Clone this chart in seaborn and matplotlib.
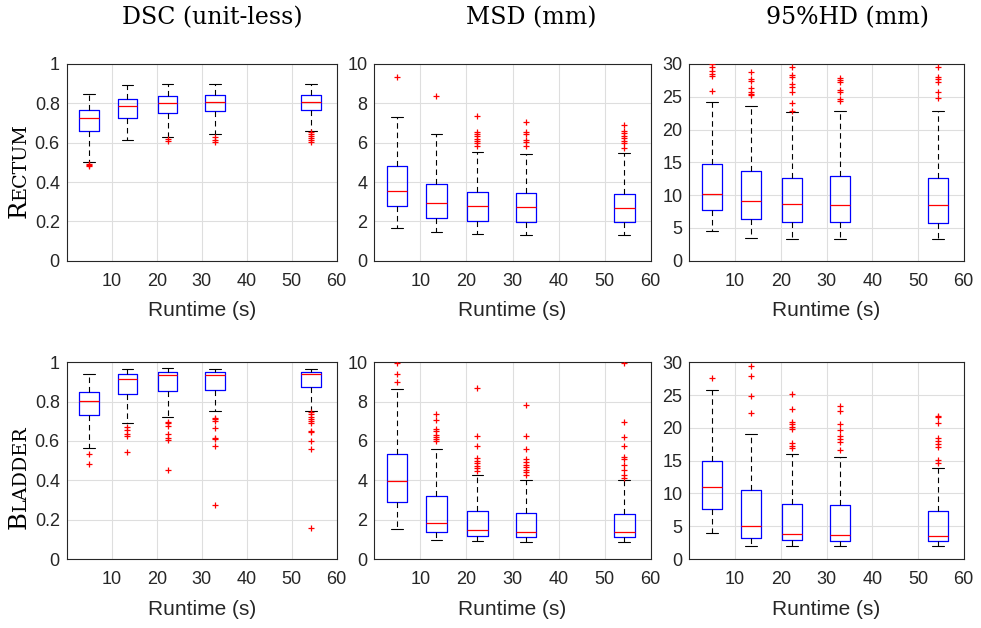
import numpy as np
import pandas as pd
import matplotlib
matplotlib.use("Agg")
import matplotlib.pyplot as plt
from matplotlib.ticker import FuncFormatter
import seaborn as sns

# mean runtime (s) of each configuration
runtime = [5, 13.5, 22.4, 33, 54.3]

# box summaries per runtime: lower whisker, q1, median, q3, upper whisker
dsc_rectum = [[0.503, 0.661, 0.724, 0.764, 0.846],
              [0.612, 0.725, 0.785, 0.820, 0.895],
              [0.631, 0.753, 0.800, 0.839, 0.900],
              [0.644, 0.761, 0.807, 0.844, 0.900],
              [0.661, 0.764, 0.808, 0.841, 0.900]]
dsc_rectum_out = [[0.492, 0.486, 0.481], [], [0.617, 0.610],
                  [0.630, 0.615, 0.605],
                  [0.655, 0.645, 0.635, 0.625, 0.615, 0.605]]

msd_rectum = [[1.64, 2.78, 3.56, 4.81, 7.32],
              [1.47, 2.15, 2.92, 3.90, 6.46],
              [1.34, 2.02, 2.78, 3.51, 5.53],
              [1.31, 1.97, 2.75, 3.46, 5.41],
              [1.29, 1.97, 2.68, 3.39, 5.47]]
msd_rectum_out = [[9.36], [8.39],
                  [7.36, 6.56, 6.44, 6.34, 6.20, 6.10, 5.97, 5.81],
                  [7.05, 6.53, 6.44, 6.14, 6.05, 5.83],
                  [6.88, 6.59, 6.47, 6.34, 6.22, 6.10, 5.97, 5.73]]

hd_rectum = [[4.47, 7.78, 10.17, 14.80, 24.25],
             [3.50, 6.30, 9.15, 13.70, 23.60],
             [3.25, 5.85, 8.60, 12.66, 22.70],
             [3.25, 5.90, 8.50, 12.90, 22.90],
             [3.25, 5.75, 8.54, 12.66, 22.80]]
hd_rectum_out = [[30.0, 29.5, 29.0, 28.5, 28.1, 25.9],
                 [28.8, 27.7, 27.4, 26.4, 25.8, 25.5, 25.2],
                 [29.5, 28.3, 28.0, 26.95, 26.5, 25.8, 24.0, 22.85],
                 [27.8, 27.6, 27.25, 26.0, 25.8, 24.6, 24.4],
                 [29.5, 27.97, 27.66, 27.3, 25.8, 24.76]]

dsc_bladder = [[0.566, 0.734, 0.802, 0.847, 0.941],
               [0.693, 0.837, 0.914, 0.942, 0.968],
               [0.720, 0.856, 0.936, 0.951, 0.969],
               [0.754, 0.859, 0.937, 0.951, 0.968],
               [0.754, 0.873, 0.939, 0.951, 0.968]]
dsc_bladder_out = [[0.536, 0.481],
                   [0.669, 0.656, 0.637, 0.625, 0.544],
                   [0.698, 0.692, 0.678, 0.636, 0.615, 0.607, 0.451],
                   [0.719, 0.710, 0.700, 0.666, 0.615, 0.608, 0.576, 0.273],
                   [0.745, 0.735, 0.720, 0.710, 0.700, 0.690, 0.651,
                    0.646, 0.598, 0.558, 0.158]]

msd_bladder = [[1.54, 2.92, 3.97, 5.32, 8.64],
               [0.95, 1.36, 1.81, 3.20, 5.59],
               [0.90, 1.19, 1.46, 2.46, 4.27],
               [0.85, 1.14, 1.39, 2.32, 4.00],
               [0.85, 1.12, 1.39, 2.29, 4.00]]
msd_bladder_out = [[9.95, 9.41, 8.98],
                   [7.37, 7.05, 6.63, 6.51, 6.31, 6.19, 6.08, 6.02],
                   [8.71, 6.24, 5.75, 5.12, 4.98, 4.86, 4.73, 4.64, 4.49],
                   [7.85, 6.24, 5.58, 5.07, 4.93, 4.80, 4.68, 4.54, 4.41, 4.27],
                   [9.95, 6.95, 6.22, 5.76, 5.17, 5.07, 4.76, 4.51, 4.29, 4.14]]

hd_bladder = [[4.02, 7.58, 10.98, 15.00, 25.70],
              [1.98, 3.25, 4.98, 10.50, 19.10],
              [1.98, 2.85, 3.86, 8.44, 15.97],
              [1.98, 2.75, 3.71, 8.29, 15.60],
              [1.98, 2.69, 3.51, 7.37, 13.93]]
hd_bladder_out = [[27.6],
                  [29.4, 27.9, 24.8, 22.2],
                  [25.2, 22.9, 20.95, 20.6, 20.2, 19.8, 17.7, 17.3, 16.9],
                  [23.3, 22.5, 20.6, 19.6, 18.7, 18.3, 17.8, 16.7],
                  [21.8, 21.6, 20.7, 18.4, 18.0, 17.5, 17.1, 15.1, 14.7]]

col_titles = ["DSC (unit-less)", "MSD (mm)", "95%HD (mm)"]
title_x = [212, 531, 847]
row_names = [("R", "ECTUM"), ("B", "LADDER")]
row_label_y = [218, 529]

panels = [[(dsc_rectum, dsc_rectum_out), (msd_rectum, msd_rectum_out), (hd_rectum, hd_rectum_out)],
          [(dsc_bladder, dsc_bladder_out), (msd_bladder, msd_bladder_out), (hd_bladder, hd_bladder_out)]]
ylims = [1, 10, 30]
yticks = [np.arange(0, 1.01, 0.2), np.arange(0, 10.1, 2), np.arange(0, 30.1, 5)]

sns.set_theme(style="whitegrid")
plt.rcParams["font.family"] = ["Liberation Sans", "DejaVu Sans"]
plt.rcParams.update({
    "axes.edgecolor": "#262626",
    "axes.linewidth": 0.8,
    "grid.color": "#dedede",
    "grid.linewidth": 0.8,
    "xtick.color": "#262626",
    "ytick.color": "#262626",
    "xtick.labelcolor": "#262626",
    "ytick.labelcolor": "#262626",
})

W, H = 981, 628
fig = plt.figure(figsize=(W / 100, H / 100), dpi=100)
fig.patch.set_facecolor("white")

col_px = [(66.7, 336.7), (374.3, 650.7), (689.3, 963.7)]
row_px = [(64, 260.7), (362.3, 559)]

box_width = 4.4 / np.diff(runtime).min()

axes = []
for r in range(2):
    row_axes = []
    for c in range(3):
        x0, x1 = col_px[c]
        y0, y1 = row_px[r]
        ax = fig.add_axes([x0 / W, 1 - y1 / H, (x1 - x0) / W, (y1 - y0) / H])
        stats, outs = panels[r][c]
        df = pd.DataFrame({
            "runtime": np.repeat(runtime, 5),
            "value": np.concatenate(stats),
        })
        sns.boxplot(data=df, x="runtime", y="value", native_scale=True,
                    whis=(0, 100), fill=False, color="blue", width=box_width,
                    linewidth=0.9,
                    medianprops={"color": "red", "linewidth": 0.9},
                    whiskerprops={"color": "black", "linestyle": (0, (5, 3.5)),
                                  "linewidth": 0.8},
                    capprops={"color": "black", "linewidth": 0.8},
                    capwidths=2.6, ax=ax)
        ox = np.concatenate([[runtime[i]] * len(o) for i, o in enumerate(outs)])
        oy = np.concatenate([o for o in outs if len(o)])
        sns.scatterplot(x=ox, y=oy, marker="+", color="red", s=22,
                        linewidth=0.9, legend=False, ax=ax, zorder=3)
        ax.set_xlim(0, 60)
        ax.set_ylim(0, ylims[c])
        ax.set_xticks([10, 20, 30, 40, 50, 60])
        ax.set_yticks(yticks[c])
        ax.yaxis.set_major_formatter(FuncFormatter(lambda v, p: "%g" % round(v, 2)))
        ax.tick_params(axis="both", labelsize=13, length=3, width=0.8,
                       direction="out")
        ax.tick_params(axis="y", pad=2)
        ax.tick_params(axis="x", pad=6)
        ax.set_xlabel("Runtime (s)", fontsize=15, labelpad=8, color="#262626")
        ax.set_ylabel("")
        ax.grid(True, axis="both")
        for s in ax.spines.values():
            s.set_visible(True)
        row_axes.append(ax)
    axes.append(row_axes)

for c, t in enumerate(col_titles):
    fig.text(title_x[c] / W, 1 - 24 / H, t, ha="center", va="baseline",
             family="DejaVu Serif", size=17, color="black")

# small-caps row labels
for r, (big, rest) in enumerate(row_names):
    t = fig.text(26 / W, 1 - row_label_y[r] / H, big, rotation=90,
                 rotation_mode="anchor", ha="left", va="baseline",
                 family="DejaVu Serif", size=17.5, color="black")
    axes[r][0].annotate(rest, xy=(26 / W, 1), xycoords=(fig.transFigure, t),
                        rotation=90, rotation_mode="anchor", ha="left",
                        va="baseline", family="DejaVu Serif", size=13.8,
                        color="black", annotation_clip=False)

fig.savefig("out.png", dpi=100, facecolor="white")
